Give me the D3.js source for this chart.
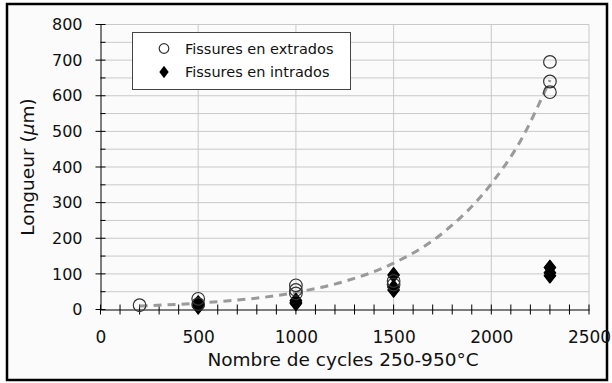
<!DOCTYPE html>
<html>
<head>
<meta charset="utf-8">
<script src="https://cdn.jsdelivr.net/npm/d3@7"></script>
<style>
  body { margin: 0; background: #fff; }
  text { font-family: "DejaVu Sans", sans-serif; fill: #111; }
</style>
</head>
<body>
<svg width="612" height="383"></svg>
<script>
// cycles / length values
var extradosX = [200, 500, 500, 1000, 1000, 1000, 1500, 1500, 2300, 2300, 2300];
var extradosY = [12, 30, 15, 68, 55, 45, 80, 70, 695, 640, 610];

var intradosX = [500, 500, 500, 1000, 1000, 1000, 1500, 1500, 1500, 2300, 2300, 2300];
var intradosY = [18, 12, 8, 25, 20, 17, 97, 62, 55, 118, 103, 95];

// dashed trend curve (excel exponential fit)
var trendX = [200, 500, 1000, 1250, 1500, 1750, 2000, 2150, 2300];
var trendY = [10, 18, 48, 79, 130, 214, 353, 474, 644];

var xTicks = [0, 500, 1000, 1500, 2000, 2500];
var yTicks = [0, 100, 200, 300, 400, 500, 600, 700, 800];

var svg = d3.select('svg');

svg.append('rect')
    .attr('x', 7).attr('y', 4)
    .attr('width', 600).attr('height', 376)
    .attr('fill', '#fbfbfb')
    .attr('stroke', '#000')
    .attr('stroke-width', 2.5);

var x = d3.scaleLinear().domain([0, 2500]).range([100.5, 589]);
var y = d3.scaleLinear().domain([0, 800]).range([309.5, 24.5]);

var g = svg.append('g');

// grid
g.selectAll('.hgrid')
    .data(d3.range(50, 801, 50))
    .enter().append('line')
    .attr('x1', x(0)).attr('x2', x(2500))
    .attr('y1', function(d) { return y(d); })
    .attr('y2', function(d) { return y(d); })
    .attr('stroke', '#c9c9c9')
    .attr('stroke-width', 1);

g.selectAll('.vgrid')
    .data([500, 1000, 1500, 2000, 2500])
    .enter().append('line')
    .attr('y1', y(0)).attr('y2', y(800))
    .attr('x1', function(d) { return x(d); })
    .attr('x2', function(d) { return x(d); })
    .attr('stroke', '#c9c9c9')
    .attr('stroke-width', 1);

// axes
var xAxis = d3.axisBottom(x).tickValues(xTicks).tickFormat(d3.format('d')).tickSize(0).tickPadding(21);
var gx = g.append('g').attr('transform', 'translate(0,' + y(0) + ')').call(xAxis);
gx.select('.domain').attr('stroke', '#000');
gx.selectAll('text').style('font-size', '17px').attr('fill', '#111');

var yAxis = d3.axisLeft(y).tickValues(yTicks).tickSize(0).tickPadding(18);
var gy = g.append('g').attr('transform', 'translate(' + x(0) + ',0)').call(yAxis);
gy.select('.domain').attr('stroke', '#000');
gy.selectAll('text').style('font-size', '16px').attr('fill', '#111');

// tick marks crossing the axes
g.selectAll('.xt')
    .data(d3.range(0, 2501, 100))
    .enter().append('line')
    .attr('x1', function(d) { return x(d); })
    .attr('x2', function(d) { return x(d); })
    .attr('y1', y(0) - 5).attr('y2', y(0) + 5)
    .attr('stroke', '#000');

g.selectAll('.yt')
    .data(d3.range(0, 801, 50))
    .enter().append('line')
    .attr('y1', function(d) { return y(d); })
    .attr('y2', function(d) { return y(d); })
    .attr('x1', function(d) { return d % 100 == 0 ? x(0) - 5 : x(0); })
    .attr('x2', x(0) + 5)
    .attr('stroke', '#000');

// trend line
var line = d3.line()
    .x(function(d) { return x(d[0]); })
    .y(function(d) { return y(d[1]); })
    .curve(d3.curveMonotoneX);

g.append('path')
    .datum(d3.zip(trendX, trendY))
    .attr('d', line)
    .attr('fill', 'none')
    .attr('stroke', '#9a9a9a')
    .attr('stroke-width', 3)
    .attr('stroke-dasharray', '8,6');

// points
var diamond = d3.symbol().type(d3.symbolDiamond).size(62);

g.selectAll('.intra')
    .data(d3.zip(intradosX, intradosY))
    .enter().append('path')
    .attr('d', diamond)
    .attr('transform', function(d) { return 'translate(' + x(d[0]) + ',' + y(d[1]) + ') scale(1.35,1)'; })
    .attr('fill', '#000')
    .attr('stroke', '#000')
    .attr('stroke-width', 1)
    .attr('stroke-linejoin', 'round');

g.selectAll('.extra')
    .data(d3.zip(extradosX, extradosY))
    .enter().append('circle')
    .attr('cx', function(d) { return x(d[0]); })
    .attr('cy', function(d) { return y(d[1]); })
    .attr('r', 6.3)
    .attr('fill', 'none')
    .attr('stroke', '#333')
    .attr('stroke-width', 1.2);

// legend
var leg = svg.append('g');
leg.append('rect')
    .attr('x', 132.5).attr('y', 32.5)
    .attr('width', 218).attr('height', 57)
    .attr('fill', '#fff')
    .attr('stroke', '#444')
    .attr('stroke-width', 1);

leg.append('circle')
    .attr('cx', 164).attr('cy', 48.5).attr('r', 4.8)
    .attr('fill', 'none').attr('stroke', '#333').attr('stroke-width', 1.2);
leg.append('path')
    .attr('d', d3.symbol().type(d3.symbolDiamond).size(45))
    .attr('transform', 'translate(164,72) scale(1.3,1)')
    .attr('fill', '#000');

leg.append('text').attr('x', 185).attr('y', 53.5)
    .style('font-size', '14.5px').text('Fissures en extrados');
leg.append('text').attr('x', 185).attr('y', 77)
    .style('font-size', '14.5px').text('Fissures en intrados');

// axis titles
svg.append('text')
    .attr('x', 343).attr('y', 366)
    .attr('text-anchor', 'middle')
    .style('font-size', '18.5px')
    .text('Nombre de cycles 250-950°C');

var yt = svg.append('text')
    .attr('transform', 'translate(34,' + y(400) + ') rotate(-90)')
    .attr('text-anchor', 'middle')
    .style('font-size', '18.5px');
yt.append('tspan').text('Longueur (');
yt.append('tspan').style('font-style', 'italic').text('µ');
yt.append('tspan').text('m)');
</script>
</body>
</html>
